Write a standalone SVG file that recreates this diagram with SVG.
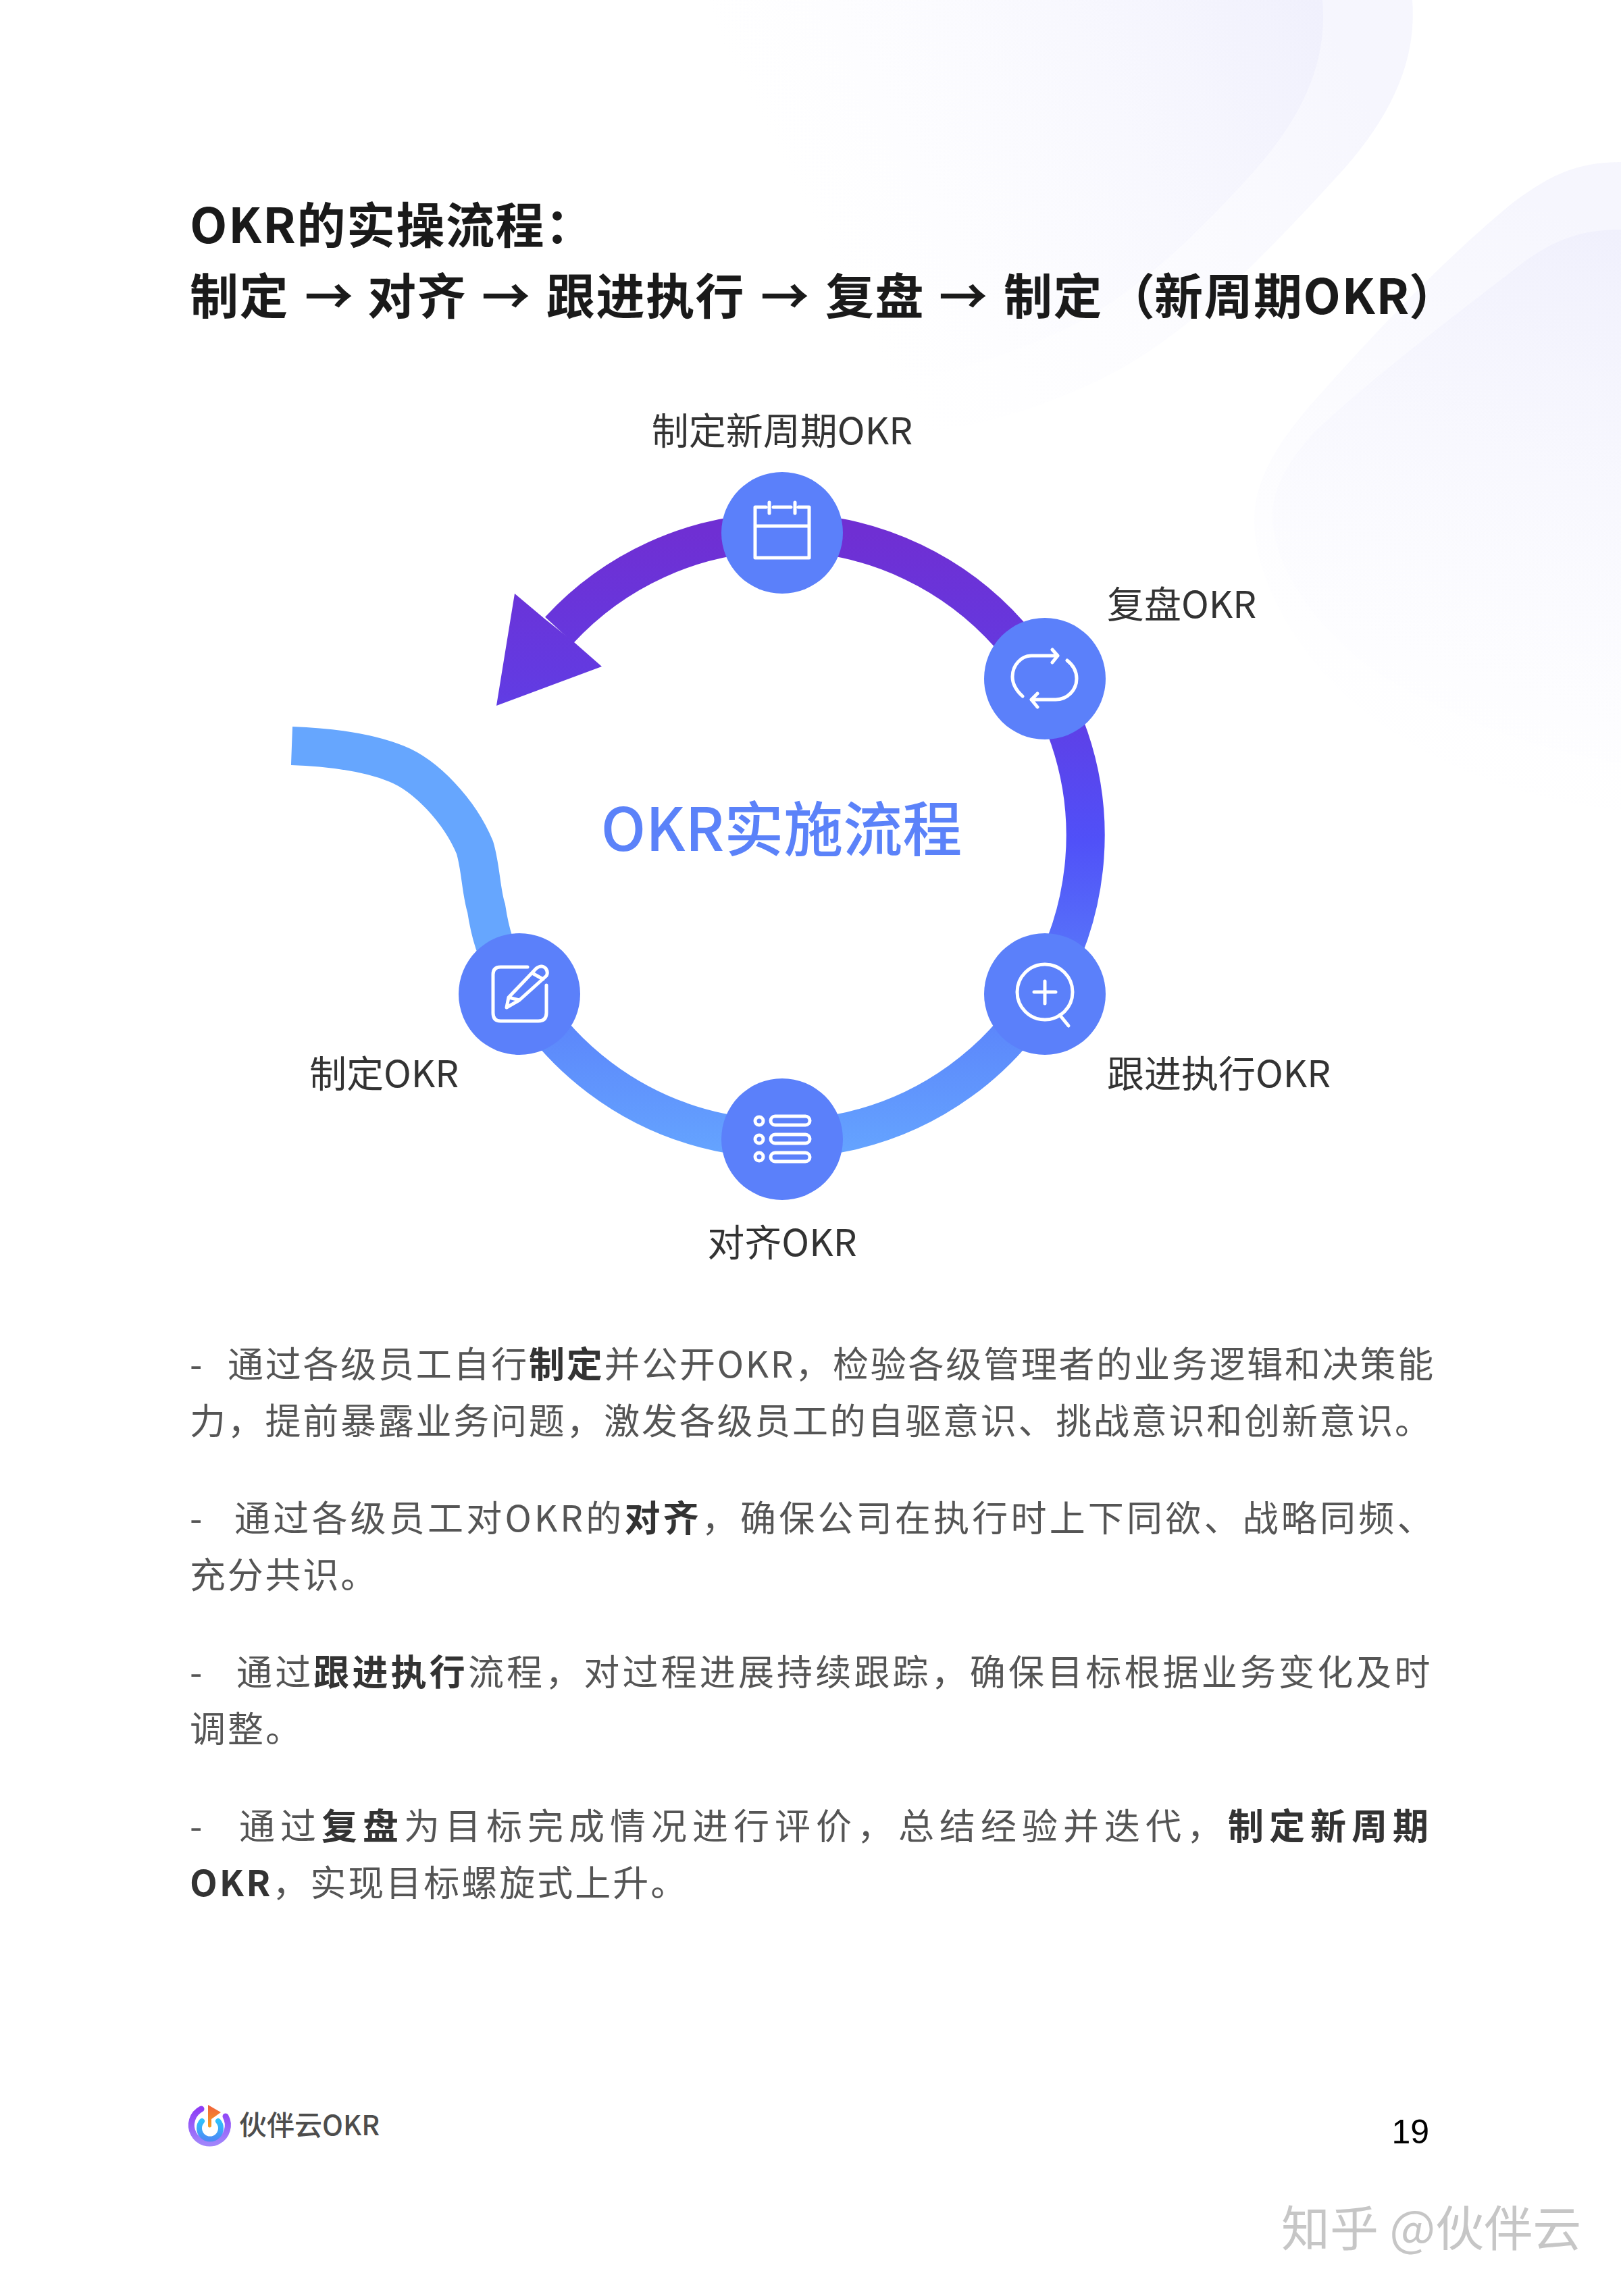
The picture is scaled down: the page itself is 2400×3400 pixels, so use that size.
<svg xmlns="http://www.w3.org/2000/svg" width="2400" height="3400" viewBox="0 0 2400 3400">
<style>
text{font-family:"Noto Sans CJK SC","Noto Sans",sans-serif}
.title{font-size:72px;font-weight:700;fill:#1a1a1a;letter-spacing:1.5px}
.label{font-size:55px;fill:#333}
.body{font-size:53px;fill:#555}
.body .b{font-weight:700;fill:#333}
.icon{fill:none;stroke:#fff;stroke-width:5;stroke-linecap:round;stroke-linejoin:round}
.node{fill:#5B80FA}
</style>
<defs>
<linearGradient id="ringGrad" gradientUnits="userSpaceOnUse" x1="0" y1="789" x2="0" y2="1716">
<stop offset="0" stop-color="#6F2FD3"/>
<stop offset="0.25" stop-color="#623BE2"/>
<stop offset="0.49" stop-color="#5050F8"/>
<stop offset="0.74" stop-color="#5A80FA"/>
<stop offset="1" stop-color="#65A5FF"/>
</linearGradient>
<linearGradient id="blobA" gradientUnits="userSpaceOnUse" x1="1980" y1="60" x2="1250" y2="430">
<stop offset="0" stop-color="#E6E6FB" stop-opacity="0.36"/>
<stop offset="1" stop-color="#F4F4FE" stop-opacity="0"/>
</linearGradient>
<linearGradient id="blobB" gradientUnits="userSpaceOnUse" x1="2350" y1="330" x2="2050" y2="1160">
<stop offset="0" stop-color="#E6E6FB" stop-opacity="0.36"/>
<stop offset="1" stop-color="#F4F4FE" stop-opacity="0"/>
</linearGradient>
<linearGradient id="logoRing" x1="0" y1="0" x2="0" y2="1"><stop offset="0" stop-color="#8E3DF5"/><stop offset="1" stop-color="#A184FB"/></linearGradient>
<linearGradient id="logoInner" x1="0" y1="0" x2="0" y2="1"><stop offset="0" stop-color="#2FC0FC"/><stop offset="1" stop-color="#4C8CF5"/></linearGradient>
<linearGradient id="logoFlag" x1="0" y1="0" x2="0" y2="1"><stop offset="0" stop-color="#F0603C"/><stop offset="1" stop-color="#F6A020"/></linearGradient>
</defs>
<rect width="2400" height="3400" fill="#fff"/>
<g id="background">
<path d="M1050,0 H2091 C2098,90 2060,170 1990,250 C1880,370 1760,500 1625,564 C1500,622 1400,645 1250,650 Z" fill="url(#blobA)"/>
<path d="M1050,0 H1958 C1966,90 1930,170 1860,250 C1770,350 1660,460 1536,505 C1440,545 1350,570 1200,580 Z" fill="url(#blobA)"/>
<path d="M2400,240 C2340,240 2300,255 2240,300 C2130,390 2020,510 1940,600 C1880,670 1857,720 1857,771 C1857,850 1910,950 1982,1020 C2060,1095 2200,1180 2400,1200 Z" fill="url(#blobB)"/>
<path d="M2400,340 C2350,340 2310,350 2260,385 C2150,470 2030,560 1946,640 C1900,690 1884,730 1884,763 C1884,840 1950,930 2030,990 C2120,1050 2260,1110 2400,1130 Z" fill="url(#blobB)"/>
</g>
<g id="heading">
<text class="title" x="281" y="360">OKR的实操流程：</text>
<text class="title" y="465"><tspan x="281">制定</tspan><tspan x="451">→</tspan><tspan x="544">对齐</tspan><tspan x="713">→</tspan><tspan x="809">跟进执行</tspan><tspan x="1126">→</tspan><tspan x="1222">复盘</tspan><tspan x="1390">→</tspan><tspan x="1486">制定</tspan><tspan x="1638">（</tspan><tspan x="1709">新周期OKR</tspan><tspan x="2086">）</tspan></text>
</g>
<g id="connectors">
<path d="M828,933 A449,449 0 1 1 770,1463" fill="none" stroke="url(#ringGrad)" stroke-width="57"/>
<polygon points="735,1045 762,879 806,916 850,951 891,987" fill="url(#ringGrad)"/>
<path d="M432,1104.5 C500,1107 550,1116 587,1131 C630,1148 680,1200 703,1255 C712,1285 712,1320 720,1345 C726,1385 735,1410 750,1440" fill="none" stroke="#66A6FE" stroke-width="57"/>
</g>
<g id="node-plan-new">
<circle class="node" cx="1158" cy="789" r="90"/>
<path class="icon" d="M1134,751 H1118 V826 H1198 V751 H1182 M1145,751 H1171 M1118,779 H1198 M1139,744 V760 M1177,744 V760"/>
<text class="label" x="1158" y="658" text-anchor="middle">制定新周期OKR</text>
</g>
<g id="node-review">
<circle class="node" cx="1547" cy="1005" r="90"/>
<path class="icon" d="M1514,1031 C1504,1022 1499,1013 1499,1002 C1499,985 1512,971 1527,971 H1566 M1558,962 L1566,971 L1558,981 M1580,978 C1589,985 1594,994 1594,1005 C1594,1022 1580,1036 1563,1036 H1527 M1536,1027 L1527,1036 L1536,1047"/>
<text class="label" x="1639" y="915">复盘OKR</text>
</g>
<g id="node-track">
<circle class="node" cx="1547" cy="1472" r="90"/>
<path class="icon" d="M1531,1469 H1563 M1547,1453 V1486 M1569,1503 L1582,1519"/>
<circle class="icon" cx="1547" cy="1469" r="41"/>
<text class="label" x="1639" y="1610">跟进执行OKR</text>
</g>
<g id="node-align">
<circle class="node" cx="1158" cy="1687" r="90"/>
<g class="icon"><circle cx="1124" cy="1660" r="6"/><circle cx="1124" cy="1687" r="6"/><circle cx="1124" cy="1713" r="6"/>
<rect x="1141" y="1653" width="58" height="13" rx="6.5"/><rect x="1141" y="1680" width="58" height="13" rx="6.5"/><rect x="1141" y="1707" width="58" height="13" rx="6.5"/></g>
<text class="label" x="1158" y="1860" text-anchor="middle">对齐OKR</text>
</g>
<g id="node-set">
<circle class="node" cx="769" cy="1472" r="90"/>
<path class="icon" d="M781,1432 H741 Q730,1432 730,1443 V1500 Q730,1512 741,1512 H797 Q809,1512 809,1500 V1459 M750,1492 L753,1477 L794,1434 Q802,1428 808,1434 Q812,1440 809,1445 L769,1481 Z M753,1477 L769,1481 M788,1441 L804,1450"/>
<text class="label" x="458" y="1610">制定OKR</text>
</g>
<text id="center-title" x="1157" y="1260" text-anchor="middle" font-size="88" font-weight="500" fill="#5B82F9">OKR实施流程</text>
<g id="body">
<text class="body" y="2040" letter-spacing="2.75"><tspan x="281">-</tspan><tspan x="337">通过各级员工自行</tspan><tspan class="b">制定</tspan><tspan>并公开OKR，检验各级管理者的业务逻辑和决策能</tspan></text>
<text class="body" x="281" y="2124" letter-spacing="2.75">力，提前暴露业务问题，激发各级员工的自驱意识、挑战意识和创新意识。</text>
<text class="body" y="2268" letter-spacing="4.2"><tspan x="281">-</tspan><tspan x="347">通过各级员工对OKR的</tspan><tspan class="b">对齐</tspan><tspan>，确保公司在执行时上下同欲、战略同频、</tspan></text>
<text class="body" x="281" y="2352" letter-spacing="2.8">充分共识。</text>
<text class="body" y="2496" letter-spacing="4.15"><tspan x="281">-</tspan><tspan x="350">通过</tspan><tspan class="b">跟进执行</tspan><tspan>流程，对过程进展持续跟踪，确保目标根据业务变化及时</tspan></text>
<text class="body" x="281" y="2580" letter-spacing="3">调整。</text>
<text class="body" y="2724" letter-spacing="8"><tspan x="281">-</tspan><tspan x="354">通过</tspan><tspan class="b">复盘</tspan><tspan>为目标完成情况进行评价，总结经验并迭代，</tspan><tspan class="b">制定新周期</tspan></text>
<text class="body" x="281" y="2808" letter-spacing="3"><tspan class="b">OKR</tspan>，实现目标螺旋式上升。</text>
</g>
<g id="logo">
<path d="M298,3123 A27,27 0 1 0 334,3134" fill="none" stroke="url(#logoRing)" stroke-width="9" stroke-linecap="round"/>
<path d="M299,3141 A16,16 0 1 0 323,3141" fill="none" stroke="url(#logoInner)" stroke-width="8" stroke-linecap="round"/>
<path d="M308,3117 L327,3128 L313,3138 V3149 Q310,3152 308,3149 Z" fill="url(#logoFlag)"/>
<text x="354" y="3162" font-size="41" font-weight="500" fill="#4d4d4d">伙伴云OKR</text>
</g>
<text id="page" x="2116" y="3174" text-anchor="end" font-size="50" fill="#000" style="font-family:'Liberation Sans',sans-serif">19</text>
<text id="watermark" x="1897" y="3326" font-size="72" fill="#c6c6c6">知乎 @伙伴云</text>
</svg>
